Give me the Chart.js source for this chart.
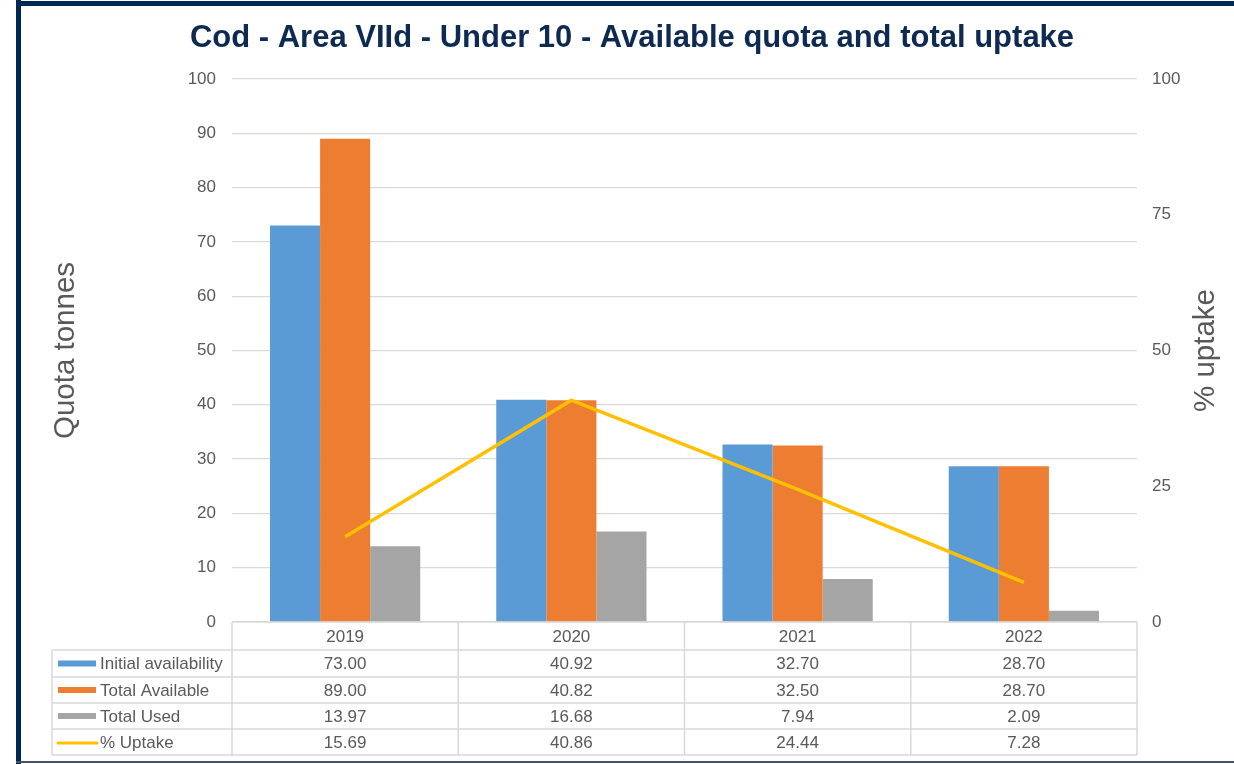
<!DOCTYPE html>
<html>
<head>
    <title>Cod - Area VIId - Under 10</title>
    <script src="https://cdn.jsdelivr.net/npm/chart.js"></script>
    <style>
        body { margin: 0; background: #fff; }
        #wrap { position: absolute; left: 0; top: 0; width: 1234px; height: 764px; }
    </style>
</head>
<body>
    <div id="wrap"><canvas id="quotaChart" width="1234" height="764"></canvas></div>

    <script>
        // chart data
        const years = ['2019', '2020', '2021', '2022'];
        const initialAvailability = [73.00, 40.92, 32.70, 28.70];
        const totalAvailable = [89.00, 40.82, 32.50, 28.70];
        const totalUsed = [13.97, 16.68, 7.94, 2.09];
        const pctUptake = [15.69, 40.86, 24.44, 7.28];

        const FONT = '"Liberation Sans", Arial, sans-serif';
        const GREY_TXT = '#595959';
        const GRID = '#d9d9d9';

        // frame, title, right axis title and data table are drawn straight onto the canvas
        const extras = {
            id: 'extras',
            beforeDraw(chart) {
                const c = chart.ctx;
                c.save();
                c.fillStyle = '#fff';
                c.fillRect(0, 0, chart.width, chart.height);
                c.restore();
            },
            afterDraw(chart) {
                const c = chart.ctx;
                const xs = chart.scales.x;
                const area = chart.chartArea;
                c.save();

                // frame
                c.fillStyle = '#002855';
                c.fillRect(16, 0, 5, 764);
                c.fillRect(16, 1, 1218, 5);
                c.fillStyle = '#44546a';
                c.fillRect(16, 761, 1218, 2);

                // title
                c.fillStyle = '#0e2a52';
                c.font = 'bold 31px ' + FONT;
                c.textAlign = 'center';
                c.textBaseline = 'middle';
                c.fillText('Cod - Area VIId - Under 10 - Available quota and total uptake', 632, 38);

                // right axis title, reads bottom to top
                c.save();
                c.translate(1206, (area.top + area.bottom) / 2);
                c.rotate(-Math.PI / 2);
                c.fillStyle = GREY_TXT;
                c.font = '29.5px ' + FONT;
                c.fillText('% uptake', 0, 0);
                c.restore();

                // data table
                const colW = (area.right - area.left) / years.length;
                const rowY = [area.bottom, 650, 677, 703, 729, 755];
                const legendLeft = 52;
                c.strokeStyle = GRID;
                c.lineWidth = 1.5;
                c.beginPath();
                c.moveTo(area.left, rowY[0]); c.lineTo(area.right, rowY[0]);
                for (let r = 1; r < rowY.length; r++) {
                    c.moveTo(legendLeft, rowY[r]); c.lineTo(area.right, rowY[r]);
                }
                c.moveTo(legendLeft, rowY[1]); c.lineTo(legendLeft, rowY[5]);
                for (let i = 0; i <= years.length; i++) {
                    const x = area.left + i * colW;
                    c.moveTo(x, rowY[0]); c.lineTo(x, rowY[5]);
                }
                c.stroke();

                const rows = [
                    { label: 'Initial availability', data: initialAvailability, color: '#5b9bd5', kind: 'bar' },
                    { label: 'Total Available', data: totalAvailable, color: '#ed7d31', kind: 'bar' },
                    { label: 'Total Used', data: totalUsed, color: '#a5a5a5', kind: 'bar' },
                    { label: '% Uptake', data: pctUptake, color: '#ffc000', kind: 'line' }
                ];

                c.font = '17px ' + FONT;
                c.fillStyle = GREY_TXT;
                c.textBaseline = 'middle';
                c.textAlign = 'center';
                years.forEach((y, i) => {
                    c.fillText(y, xs.getPixelForValue(i), (rowY[0] + rowY[1]) / 2 + 1);
                });

                rows.forEach((row, r) => {
                    const mid = (rowY[r + 1] + rowY[r + 2]) / 2;
                    if (row.kind === 'bar') {
                        c.fillStyle = row.color;
                        c.fillRect(58, mid - 3, 38, 6);
                    } else {
                        c.strokeStyle = row.color;
                        c.lineWidth = 3;
                        c.lineCap = 'round';
                        c.beginPath();
                        c.moveTo(58, mid + 1); c.lineTo(97, mid + 1);
                        c.stroke();
                    }
                    c.fillStyle = GREY_TXT;
                    c.textAlign = 'left';
                    c.fillText(row.label, 100, mid + 1);
                    c.textAlign = 'center';
                    row.data.forEach((v, i) => {
                        c.fillText(v.toFixed(2), xs.getPixelForValue(i), mid + 1);
                    });
                });

                c.restore();
            }
        };

        const ctx = document.getElementById('quotaChart').getContext('2d');
        new Chart(ctx, {
            data: {
                labels: years,
                datasets: [
                    {
                        type: 'line',
                        label: '% Uptake',
                        data: pctUptake,
                        yAxisID: 'y1',
                        borderColor: '#ffc000',
                        borderWidth: 3.5,
                        pointRadius: 0,
                        tension: 0,
                        order: 0
                    },
                    { type: 'bar', label: 'Initial availability', data: initialAvailability, backgroundColor: '#5b9bd5', yAxisID: 'y', order: 1 },
                    { type: 'bar', label: 'Total Available', data: totalAvailable, backgroundColor: '#ed7d31', yAxisID: 'y', order: 1 },
                    { type: 'bar', label: 'Total Used', data: totalUsed, backgroundColor: '#a5a5a5', yAxisID: 'y', order: 1 }
                ]
            },
            options: {
                responsive: false,
                animation: false,
                layout: { padding: { left: 44, right: 14, top: 79, bottom: 142 } },
                datasets: {
                    bar: { categoryPercentage: 0.664, barPercentage: 1.0 }
                },
                plugins: {
                    legend: { display: false },
                    title: { display: false },
                    tooltip: { enabled: false }
                },
                scales: {
                    x: { display: false },
                    y: {
                        position: 'left',
                        min: 0, max: 100,
                        ticks: { stepSize: 10, color: GREY_TXT, font: { family: FONT, size: 17 }, padding: 16 },
                        grid: { color: GRID, lineWidth: 1.2, drawTicks: false },
                        border: { display: false },
                        title: { display: true, text: 'Quota tonnes', color: GREY_TXT, font: { family: FONT, size: 29.5 } },
                        afterFit(scale) { scale.width = 188; }
                    },
                    y1: {
                        position: 'right',
                        min: 0, max: 100,
                        ticks: { stepSize: 25, color: GREY_TXT, font: { family: FONT, size: 17 }, padding: 15 },
                        grid: { display: false, drawTicks: false },
                        border: { display: false },
                        afterFit(scale) { scale.width = 83; }
                    }
                }
            },
            plugins: [extras]
        });
    </script>
</body>
</html>
